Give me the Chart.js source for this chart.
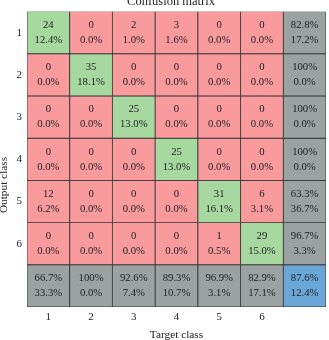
<!DOCTYPE html>
<html>
<head>
<meta charset="utf-8">
<script src="https://cdn.jsdelivr.net/npm/chart.js@4/dist/chart.umd.min.js"></script>
<style>
html,body{margin:0;padding:0;background:#fff;}
#wrap{width:329px;height:340px;position:relative;}
</style>
</head>
<body>
<div id="wrap"><canvas id="c" width="329" height="340"></canvas></div>
<script>
// Target class (columns) labels; last column = summary
const targetLabels = ['1','2','3','4','5','6',''];
// Output class (rows) labels
const outputLabels = ['1','2','3','4','5','6'];

// Counts: rows = output class, cols = target class
const counts = [
  [24, 0, 2, 3, 0, 0],
  [0, 35, 0, 0, 0, 0],
  [0, 0, 25, 0, 0, 0],
  [0, 0, 0, 25, 0, 0],
  [12, 0, 0, 0, 31, 6],
  [0, 0, 0, 0, 1, 29]
];
// Percent of total per cell (as read)
const cellPct = [
  ['12.4%','0.0%','1.0%','1.6%','0.0%','0.0%'],
  ['0.0%','18.1%','0.0%','0.0%','0.0%','0.0%'],
  ['0.0%','0.0%','13.0%','0.0%','0.0%','0.0%'],
  ['0.0%','0.0%','0.0%','13.0%','0.0%','0.0%'],
  ['6.2%','0.0%','0.0%','0.0%','16.1%','3.1%'],
  ['0.0%','0.0%','0.0%','0.0%','0.5%','15.0%']
];
// Row summary (precision / error)
const rowCorrect = ['82.8%','100%','100%','100%','63.3%','96.7%'];
const rowError   = ['17.2%','0.0%','0.0%','0.0%','36.7%','3.3%'];
// Column summary (recall / error), last = overall
const colCorrect = ['66.7%','100%','92.6%','89.3%','96.9%','82.9%','87.6%'];
const colError   = ['33.3%','0.0%','7.4%','10.7%','3.1%','17.1%','12.4%'];

const GREEN = '#a7d8a0', RED = '#f99a9d', GRAY = '#9aa3a1', BLUE = '#6aa7d7';
const FONT = '"Liberation Serif", "DejaVu Serif", serif';
const TEXT = '#222';

const nRows = outputLabels.length + 1;
const datasets = [];
for (let r = 0; r < nRows; r++) {
  const bg = [], top = [], bottom = [];
  for (let c = 0; c < targetLabels.length; c++) {
    if (r < outputLabels.length) {
      if (c < outputLabels.length) {
        bg.push(r === c ? GREEN : RED);
        top.push(String(counts[r][c]));
        bottom.push(cellPct[r][c]);
      } else {
        bg.push(GRAY);
        top.push(rowCorrect[r]);
        bottom.push(rowError[r]);
      }
    } else {
      bg.push(c < outputLabels.length ? GRAY : BLUE);
      top.push(colCorrect[c]);
      bottom.push(colError[c]);
    }
  }
  datasets.push({
    label: 'row' + (r + 1),
    data: targetLabels.map(() => [r, r + 1]),
    backgroundColor: bg,
    borderColor: '#333',
    borderWidth: 0.8,
    borderSkipped: false,
    barPercentage: 1,
    categoryPercentage: 1,
    grouped: false,
    cellTop: top,
    cellBottom: bottom
  });
}

const textPlugin = {
  id: 'cellText',
  afterDatasetsDraw(chart) {
    const ctx = chart.ctx;
    ctx.save();
    ctx.fillStyle = TEXT;
    ctx.font = '10.7px ' + FONT;
    ctx.textAlign = 'center';
    ctx.textBaseline = 'middle';
    chart.data.datasets.forEach((ds, i) => {
      const meta = chart.getDatasetMeta(i);
      meta.data.forEach((el, j) => {
        const p = el.getCenterPoint();
        ctx.fillText(ds.cellTop[j], p.x, p.y - 7.5);
        ctx.fillText(ds.cellBottom[j], p.x, p.y + 7.5);
      });
    });
    // chart title
    ctx.font = '12.5px ' + FONT;
    ctx.textBaseline = 'alphabetic';
    ctx.fillText('Confusion matrix', 171, 4.5);
    // y-axis title
    ctx.translate(4.5, 185);
    ctx.rotate(-Math.PI / 2);
    ctx.font = '11.3px ' + FONT;
    ctx.textBaseline = 'middle';
    ctx.fillText('Output class', 0, 0);
    ctx.restore();
  }
};

new Chart(document.getElementById('c'), {
  type: 'bar',
  data: { labels: targetLabels, datasets },
  options: {
    responsive: false,
    animation: false,
    events: [],
    layout: { padding: { left: 0, right: 3, top: 8.5, bottom: 0 } },
    plugins: { legend: { display: false }, tooltip: { enabled: false }, title: { display: false } },
    scales: {
      x: {
        grid: { display: false, drawTicks: false },
        border: { display: false },
        ticks: { color: TEXT, padding: 4, font: { family: FONT, size: 11 }, maxRotation: 0, autoSkip: false },
        title: { display: true, text: 'Target class', color: TEXT, font: { family: FONT, size: 11.3 }, padding: { top: 0, bottom: -2 } },
        afterFit(s) { s.height = 33; }
      },
      y: {
        min: 0, max: nRows, reverse: true,
        grid: { display: false, drawTicks: false },
        border: { display: false },
        afterBuildTicks(s) { s.ticks = outputLabels.map((_, i) => ({ value: i + 0.5 })); },
        ticks: {
          color: TEXT, padding: 5, font: { family: FONT, size: 11 },
          callback: (v, i) => outputLabels[i]
        },
        afterFit(s) { s.width = 27; }
      }
    }
  },
  plugins: [textPlugin]
});
</script>
</body>
</html>
